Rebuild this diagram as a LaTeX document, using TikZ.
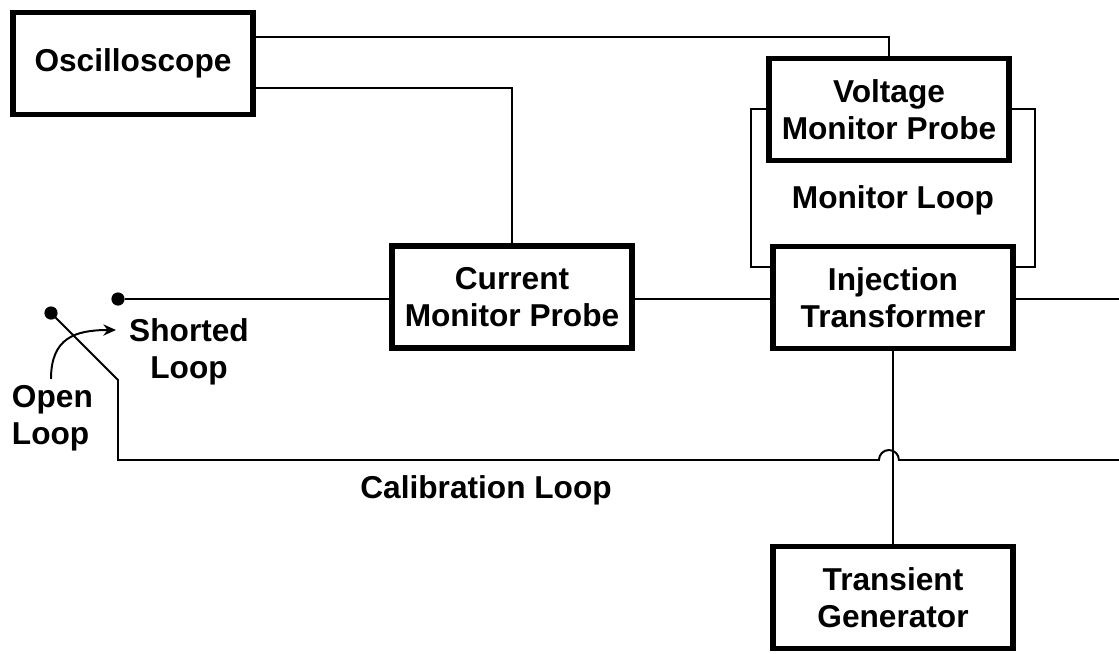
\documentclass[tikz,border=0pt]{standalone}
\usepackage{fontspec}
\setmainfont{Liberation Sans}
\usetikzlibrary{positioning,arrows.meta}

\begin{document}
\begin{tikzpicture}[x=0.025cm,y=-0.025cm,
  font=\fontsize{22.5}{26.5}\selectfont\bfseries,
  blk/.style={draw,line width=3.8pt,fill=white,align=center,minimum width=6.0cm,minimum height=2.55cm,inner sep=2pt},
  wire/.style={line width=1.4pt},
  lbl/.style={align=center},
  dot/.style={circle,fill,inner sep=0pt,minimum size=0.33cm}]
\useasboundingbox (0,0) rectangle (1119,653);
% instruments
\node[blk] (osc) at (133,63.5) {Oscilloscope};
\node[blk] (vmp) at (889,109.5) {Voltage\\ Monitor Probe};
\node[blk] (inj) at (893,297.5) {Injection\\ Transformer};
\node[blk] (cmp) at (512,297) {Current\\ Monitor Probe};
\node[blk] (gen) at (893,597.5) {Transient\\ Generator};
% switch
\node[dot] (sh) at (118,299) {};
\node[dot] (op) at (51,313) {};
\coordinate (knee) at (118,380);
\coordinate (hop) at (893,460);
\coordinate (cal) at (1119,460);
\coordinate (out) at (1119,299);
% scope leads
\draw[wire] (osc.east|-0,37) -| (vmp.north);
\draw[wire] (osc.east|-0,88) -| (cmp.north);
% monitor loop
\draw[wire] (vmp.west|-0,109) -- (751,109) |- (inj.west|-0,267);
\draw[wire] (vmp.east|-0,109) -- (1035,109) |- (inj.east|-0,267);
% main loop
\draw[wire] (sh) -- (sh-|cmp.west);
\draw[wire] (cmp.east|-sh) -- (inj.west|-sh);
\draw[wire] (inj.east|-sh) -- (out);
\draw[wire] (inj.south) -- (gen.north);
% calibration loop with hop over the generator lead
\draw[wire] (op.center) -- (knee) -- (118,460) -- ([xshift=-10]hop) arc[start angle=180,end angle=360,radius=10] -- (cal);
\draw[wire,-{Stealth[length=9pt,width=8pt]}] (51,379) .. controls (51,338) and (75,330) .. (116,330);
% labels
\node[lbl] (shl) at (189,352) {Shorted\\ Loop};
\node[align=left,anchor=west] (opl) at (7,418) {Open\\ Loop};
\node[lbl] (mon) at (893,200) {Monitor Loop};
\node[lbl] (cll) at (486,490) {Calibration Loop};
\end{tikzpicture}
\end{document}
